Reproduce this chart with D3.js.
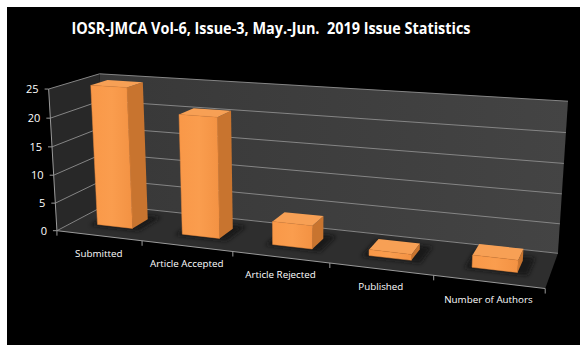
<!DOCTYPE html>
<html>
<head>
<meta charset="utf-8">
<script src="https://cdn.jsdelivr.net/npm/d3@7/dist/d3.min.js"></script>
<style>
html,body{margin:0;padding:0;background:#fff;}
svg{display:block;}
text{font-family:"Open Sans","Noto Sans",sans-serif;white-space:pre;}
</style>
</head>
<body>
<script>
// ---- data ----
const title = "IOSR-JMCA Vol-6, Issue-3, May.-Jun.  2019 Issue Statistics";
const categories = ["Submitted", "Article Accepted", "Article Rejected", "Published", "Number of Authors"];
const values = [25, 21, 4, 1, 2];
const valueTicks = [0, 5, 10, 15, 20, 25];

const W = 588, H = 355;
const svg = d3.select("body").append("svg").attr("width", W).attr("height", H);

// ---- camera fit (world: X category 0..5, Y value 0..1, Z depth 0 front..1 back) ----
const camPts = [
  [0,0,0, 58,231],[1,0,0,142,241],[2,0,0,232,252],[3,0,0,330,263],[4,0,0,434,276],[5,0,0,545,288],
  [0,1,0, 48,89],[0,0.5,0, 53,160],
  [0,1,1,100,74],[0,0,1,105,205],[5,1,1,568,102],[5,0,1,558,253],[5,0.5,1,563,178]
];
function fitCamera(pts){
  const A=[], b=[];
  pts.forEach(([X,Y,Z,u,v])=>{
    A.push([X,Y,Z,1,0,0,0,0,-u*X,-u*Y,-u*Z]); b.push(u);
    A.push([0,0,0,0,X,Y,Z,1,-v*X,-v*Y,-v*Z]); b.push(v);
  });
  const n=11; const M=[...Array(n)].map(()=>Array(n+1).fill(0));
  for(let r=0;r<A.length;r++) for(let i=0;i<n;i++){ for(let j=0;j<n;j++) M[i][j]+=A[r][i]*A[r][j]; M[i][n]+=A[r][i]*b[r]; }
  for(let c=0;c<n;c++){
    let p=c; for(let r=c+1;r<n;r++) if(Math.abs(M[r][c])>Math.abs(M[p][c])) p=r;
    [M[c],M[p]]=[M[p],M[c]];
    for(let r=0;r<n;r++){ if(r===c) continue; const f=M[r][c]/M[c][c]; for(let k=c;k<=n;k++) M[r][k]-=f*M[c][k]; }
  }
  return M.map((row,i)=>row[n]/row[i]);
}
const P = fitCamera(camPts);
function proj(X,Y,Z){
  const w=P[8]*X+P[9]*Y+P[10]*Z+1;
  return [(P[0]*X+P[1]*Y+P[2]*Z+P[3])/w,(P[4]*X+P[5]*Y+P[6]*Z+P[7])/w];
}

// ---- scales ----
const x = d3.scaleBand().domain(categories).range([0,5]).paddingInner(0.58).paddingOuter(0.29);
const y = d3.scaleLinear().domain([0,25]).range([0,1]);
const zFront = 0.33, zBack = 0.67;

const defs = svg.append("defs");
const blur = defs.append("filter").attr("id","sh").attr("x","-50%").attr("y","-50%").attr("width","200%").attr("height","200%");
blur.append("feGaussianBlur").attr("stdDeviation",2.2);
const bg = defs.append("linearGradient").attr("id","backg").attr("x1","0").attr("x2","1").attr("y1","0").attr("y2","0");
bg.append("stop").attr("offset","0").attr("stop-color","#383838");
bg.append("stop").attr("offset","1").attr("stop-color","#444444");
const fg = defs.append("linearGradient").attr("id","frontg").attr("x1","0").attr("x2","1").attr("y1","0").attr("y2","0");
fg.append("stop").attr("offset","0").attr("stop-color","#f99848");
fg.append("stop").attr("offset","0.5").attr("stop-color","#fa9d4e");
fg.append("stop").attr("offset","1").attr("stop-color","#f39243");

// background
svg.append("rect").attr("x",7).attr("y",7).attr("width",573).attr("height",338).attr("fill","#000");

const line = d3.line();
const poly = pts => line(pts) + "Z";

// walls
svg.append("path").attr("d", poly([proj(0,0,1),proj(5,0,1),proj(5,1,1),proj(0,1,1)])).attr("fill","url(#backg)");
svg.append("path").attr("d", poly([proj(0,0,0),proj(0,0,1),proj(0,1,1),proj(0,1,0)])).attr("fill","#282828");
svg.append("path").attr("d", poly([proj(0,0,0),proj(5,0,0),proj(5,0,1),proj(0,0,1)])).attr("fill","#2e2e2e");

// gridlines
const gl = svg.append("g").attr("fill","none").attr("stroke","#858585").attr("stroke-width",1);
valueTicks.forEach(v=>{
  gl.append("path").attr("d", line([proj(0,y(v),0),proj(0,y(v),1),proj(5,y(v),1)]));
});

// axes
const ax = svg.append("g").attr("stroke","#9a9a9a").attr("stroke-width",1).attr("fill","none");
ax.append("path").attr("d", line([proj(0,0,0),proj(0,1,0)]));
ax.append("path").attr("d", line([proj(0,0,0),proj(5,0,0)]));
valueTicks.forEach(v=>{
  const p=proj(0,y(v),0);
  ax.append("path").attr("d", line([[p[0]-4,p[1]],p]));
});
d3.range(categories.length+1).forEach(i=>{
  const p=proj(i,0,0);
  ax.append("path").attr("d", line([p,[p[0],p[1]+5]]));
});

// shadows
const shG = svg.append("g");
categories.forEach((c,i)=>{
  const x0=x(c)-0.06, x1=x(c)+x.bandwidth()+0.1, z0=zFront-0.05, z1=zBack+0.12;
  shG.append("path").attr("d", poly([proj(x0,0,z0),proj(x1,0,z0),proj(x1,0,z1),proj(x0,0,z1)]))
    .attr("fill","#121212").attr("opacity",0.85).attr("filter","url(#sh)");
});

// bars
function signedArea(pts){ let s=0; for(let i=0;i<pts.length;i++){ const a=pts[i], b=pts[(i+1)%pts.length]; s+=a[0]*b[1]-b[0]*a[1]; } return s/2; }
const barsG = svg.append("g");
categories.forEach((c,i)=>{
  const x0=x(c), x1=x(c)+x.bandwidth(), h=y(values[i]), z0=zFront, z1=zBack;
  const faces = [
    {n:"back",  f:"#c06c2c", p:[[x1,0,z1],[x0,0,z1],[x0,h,z1],[x1,h,z1]]},
    {n:"left",  f:"#d98038", p:[[x0,0,z1],[x0,0,z0],[x0,h,z0],[x0,h,z1]]},
    {n:"right", f:"#c8742f", p:[[x1,0,z0],[x1,0,z1],[x1,h,z1],[x1,h,z0]]},
    {n:"top",   f:"#f7a055", p:[[x0,h,z0],[x1,h,z0],[x1,h,z1],[x0,h,z1]]},
    {n:"front", f:"url(#frontg)", p:[[x0,0,z0],[x1,0,z0],[x1,h,z0],[x0,h,z0]]}
  ].map(d=>({...d, s:d.p.map(q=>proj(...q))}));
  const ref = Math.sign(signedArea(faces[4].s));
  faces.forEach(d=>{
    if (Math.sign(signedArea(d.s))!==ref) return;
    barsG.append("path").attr("d", poly(d.s)).attr("fill", d.f)
      .attr("stroke", d.n==="front" ? "#e8893c" : "none").attr("stroke-width",0.5);
  });
});

// value labels
svg.append("g").selectAll("text").data(valueTicks).join("text")
  .attr("x", v=>proj(0,y(v),0)[0]-10)
  .attr("y", v=>proj(0,y(v),0)[1]+4)
  .attr("text-anchor","end").attr("fill","#fff").attr("font-size",11)
  .text(v=>v);

// category labels
svg.append("g").selectAll("text").data(categories).join("text")
  .attr("x", c=>proj(x(c)+x.bandwidth()/2,0,0)[0])
  .attr("y", c=>proj(x(c)+x.bandwidth()/2,0,0)[1]+21)
  .attr("text-anchor","middle").attr("fill","#fff").attr("font-size",9.8)
  .text(c=>c);

// title
svg.append("text").attr("x",271).attr("y",34).attr("text-anchor","middle")
  .attr("fill","#fff").attr("font-size",15.5).attr("font-weight","bold")
  .attr("textLength",399).attr("lengthAdjust","spacingAndGlyphs")
  .text(title);
</script>
</body>
</html>
